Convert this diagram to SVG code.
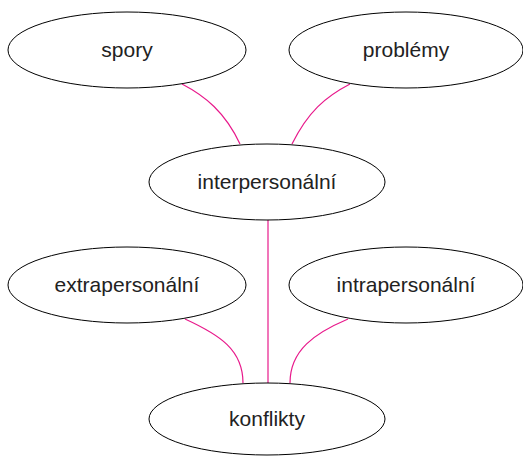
<svg xmlns="http://www.w3.org/2000/svg" width="523" height="456" viewBox="0 0 523 456">
<style>
.n ellipse{fill:#fff;stroke:#000;stroke-width:1}
.n text{font-family:"Liberation Sans",Arial,sans-serif;font-size:21px;fill:#222;text-anchor:middle}
.e path{fill:none;stroke:#e8198b;stroke-width:1.2}
</style>
<rect width="523" height="456" fill="#fff"/>
<g class="e" id="connectors">
<path d="M182,84 C205,96 225,112 240,144"/>
<path d="M350,84 C325,97 308,112 292,144"/>
<path d="M268,220 L268,383"/>
<path d="M185,319 C220,335 243,350 243,383"/>
<path d="M348,319 C315,333 290,350 290,383"/>
</g>
<g class="n" id="spory"><ellipse cx="127" cy="50" rx="119" ry="38"/><text x="127" y="57">spory</text></g>
<g class="n" id="problemy"><ellipse cx="406" cy="50" rx="117" ry="38"/><text x="406" y="57">problémy</text></g>
<g class="n" id="interpersonalni"><ellipse cx="267" cy="182" rx="118" ry="38"/><text x="267" y="189">interpersonální</text></g>
<g class="n" id="extrapersonalni"><ellipse cx="127" cy="285" rx="119" ry="38"/><text x="127" y="292">extrapersonální</text></g>
<g class="n" id="intrapersonalni"><ellipse cx="406" cy="285" rx="117" ry="38"/><text x="406" y="292">intrapersonální</text></g>
<g class="n" id="konflikty"><ellipse cx="267" cy="419" rx="118" ry="36"/><text x="267" y="426">konflikty</text></g>
</svg>
